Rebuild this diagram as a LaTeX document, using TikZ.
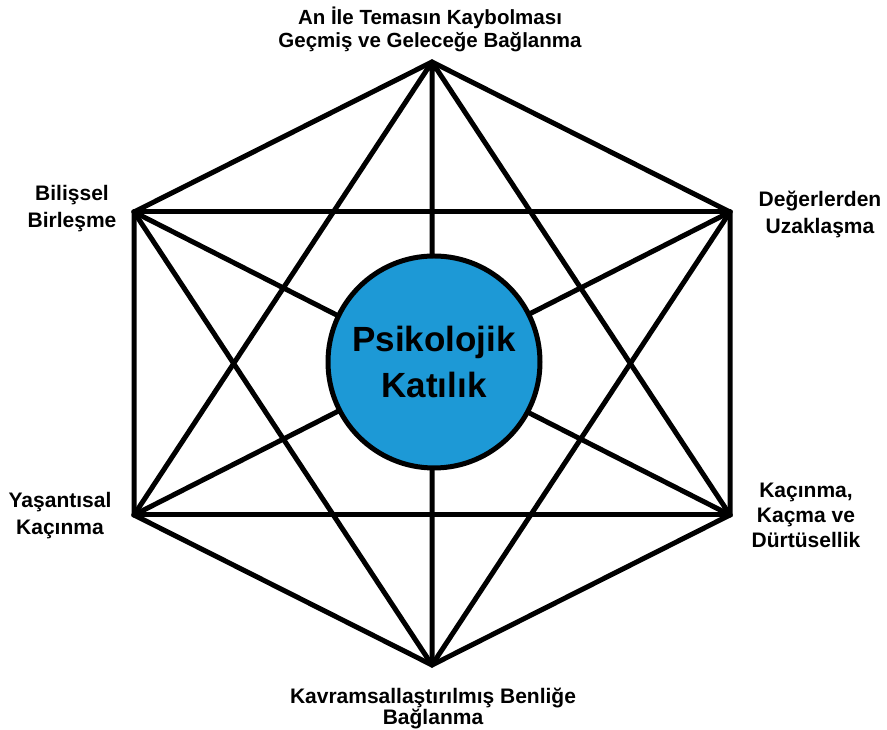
\documentclass[tikz,border=0pt]{standalone}
\usepackage{fontspec}
\setmainfont{Liberation Sans}
\definecolor{circblue}{RGB}{29,153,214}
\begin{document}
\begin{tikzpicture}[x=1pt,y=1pt,
  edge/.style={line width=5pt,line join=miter,line cap=round},
  lbl/.style={font=\bfseries\fontsize{21}{27}\selectfont,align=center,inner sep=0pt},
  hub/.style={circle,draw=black,line width=5pt,fill=circblue,minimum size=212pt,inner sep=0pt,align=center,font=\bfseries\fontsize{35}{46}\selectfont}]
\useasboundingbox (0,0) rectangle (887,730);
\coordinate (T) at (432,668);
\coordinate (UL) at (134,518);
\coordinate (UR) at (730,518);
\coordinate (LL) at (134,215);
\coordinate (LR) at (730,215);
\coordinate (B) at (432,65);
% complete graph K6
\draw[edge] (T) -- (UL) -- (LL) -- (B) -- (LR) -- (UR) -- cycle;
\draw[edge] (UL) -- (UR);
\draw[edge] (LL) -- (LR);
\draw[edge] (T) -- (LL) (T) -- (LR) (T) -- (B);
\draw[edge] (B) -- (UL) (B) -- (UR);
\draw[edge] (UL) -- (LR) (UR) -- (LL);
\node[hub] (hub) at (434,368) {Psikolojik\\Katılık};
\node[lbl,font=\bfseries\fontsize{20.5}{23}\selectfont] (lt) at (430,701) {An İle Temasın Kaybolması\\Geçmiş ve Geleceğe Bağlanma};
\node[lbl] (lul) at (72,521) {Bilişsel\\Birleşme};
\node[lbl] (lur) at (820,516) {Değerlerden\\Uzaklaşma};
\node[lbl] (lll) at (60,214) {Yaşantısal\\Kaçınma};
\node[lbl,font=\bfseries\fontsize{21}{25}\selectfont] (llr) at (806,215) {Kaçınma,\\Kaçma ve\\Dürtüsellik};
\node[lbl,font=\bfseries\fontsize{21}{21}\selectfont] (lb) at (433,21) {Kavramsallaştırılmış Benliğe\\Bağlanma};
\end{tikzpicture}
\end{document}
